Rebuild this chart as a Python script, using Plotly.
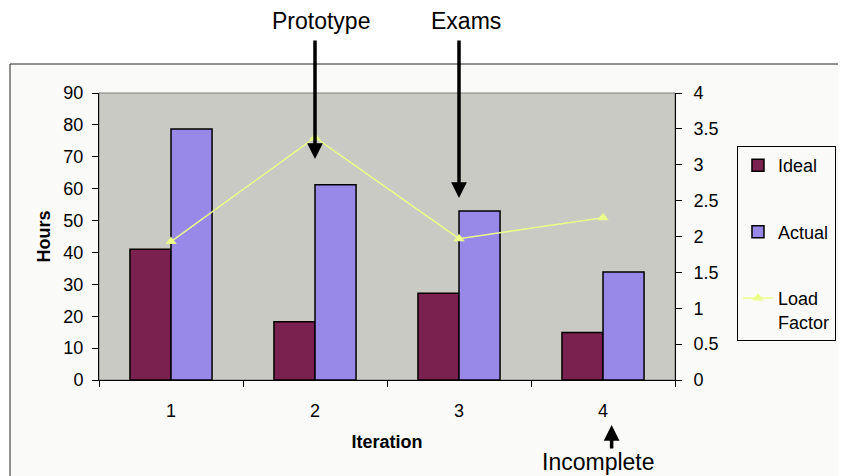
import plotly.graph_objects as go

iterations = ["1", "2", "3", "4"]
ideal_hours = [41.0, 18.3, 27.2, 14.9]
actual_hours = [78.7, 61.2, 53.0, 33.9]
load_factor = [1.93, 3.38, 1.97, 2.26]

FONT = "Arial, 'Liberation Sans', sans-serif"

fig = go.Figure()
fig.add_trace(go.Bar(x=iterations, y=ideal_hours, name="Ideal", legendgroup="a",
                     marker=dict(color="#7B2150", line=dict(color="black", width=1.5))))
fig.add_trace(go.Bar(x=iterations, y=actual_hours, name="Actual", legendgroup="b",
                     marker=dict(color="#9888E8", line=dict(color="black", width=1.5))))
fig.add_trace(go.Scatter(x=iterations, y=load_factor, name="Load<br>Factor", legendgroup="c",
                         yaxis="y2", mode="lines+markers",
                         line=dict(color="#EDFD8A", width=1.5),
                         marker=dict(symbol="triangle-up", size=10, color="#EDFD8A")))

# frame (open to the right/bottom, as in the cropped original) and plot-area background
fig.add_shape(type="rect", xref="paper", yref="paper", x0=-0.1545, x1=1.6, y0=-0.45, y1=1.101,
              fillcolor="#FAFAF8", line=dict(width=0), layer="below")
fig.add_shape(type="line", xref="paper", yref="paper", x0=-0.1545, x1=-0.1545, y0=-0.45, y1=1.101,
              line=dict(color="#222222", width=1), layer="below")
fig.add_shape(type="line", xref="paper", yref="paper", x0=-0.1545, x1=1.6, y0=1.101, y1=1.101,
              line=dict(color="#222222", width=1), layer="below")
fig.add_shape(type="rect", xref="paper", yref="paper", x0=0, x1=1, y0=0, y1=1,
              fillcolor="#C8CAC3", line=dict(color="#808080", width=1), layer="below")

ann_font = dict(family=FONT, size=23, color="black")
annotations = [
    dict(text="Prototype", x=0.385, y=1.251, xref="paper", yref="paper", showarrow=False,
         font=ann_font, xanchor="center", yanchor="middle"),
    dict(text="Exams", x=0.637, y=1.251, xref="paper", yref="paper", showarrow=False,
         font=ann_font, xanchor="center", yanchor="middle"),
    dict(text="Incomplete", x=0.868, y=-0.286, xref="paper", yref="paper", showarrow=False,
         font=ann_font, xanchor="center", yanchor="middle"),
    dict(text="", x=0.375, y=0.770, xref="paper", yref="paper", showarrow=True,
         ax=0, ay=-120, arrowhead=2, arrowsize=0.9, arrowwidth=3.5, arrowcolor="black"),
    dict(text="", x=0.625, y=0.634, xref="paper", yref="paper", showarrow=True,
         ax=0, ay=-159, arrowhead=2, arrowsize=0.9, arrowwidth=3.5, arrowcolor="black"),
    dict(text="", x=0.89, y=-0.157, xref="paper", yref="paper", showarrow=True,
         ax=0, ay=25, arrowhead=2, arrowsize=0.9, arrowwidth=3.5, arrowcolor="black"),
]

fig.update_layout(
    width=838, height=468,
    margin=dict(l=91, r=171, t=85, b=96, autoexpand=False),
    paper_bgcolor="white",
    plot_bgcolor="rgba(0,0,0,0)",
    font=dict(family=FONT, size=18, color="black"),
    barmode="group", bargap=0.43, bargroupgap=0,
    showlegend=True,
    legend=dict(x=1.1076, y=0.815, xanchor="left", yanchor="top",
                bgcolor="#FAFAF8", bordercolor="black", borderwidth=1,
                font=dict(family=FONT, size=18), tracegroupgap=40, valign="top",
                traceorder="grouped"),
    xaxis=dict(type="category", range=[-0.5, 3.5], showline=True, linecolor="black", linewidth=1,
               ticks="outside", ticklen=6, tickcolor="black", tickson="boundaries",
               showgrid=False, zeroline=False, ticklabelstandoff=14,
               title=dict(text="<b>Iteration</b>", font=dict(size=18), standoff=15)),
    yaxis=dict(range=[0, 90], dtick=10, showline=True, linecolor="black", linewidth=1,
               ticks="outside", ticklen=6, tickcolor="black", showgrid=False, zeroline=False,
               ticklabelstandoff=5,
               title=dict(text="<b>Hours</b>", font=dict(size=18), standoff=8)),
    yaxis2=dict(range=[0, 4], dtick=0.5, overlaying="y", side="right", showline=True,
                linecolor="black", linewidth=1, ticks="outside", ticklen=6, tickcolor="black",
                showgrid=False, zeroline=False, ticklabelstandoff=8),
    annotations=annotations,
)

fig.write_html("out.html")
